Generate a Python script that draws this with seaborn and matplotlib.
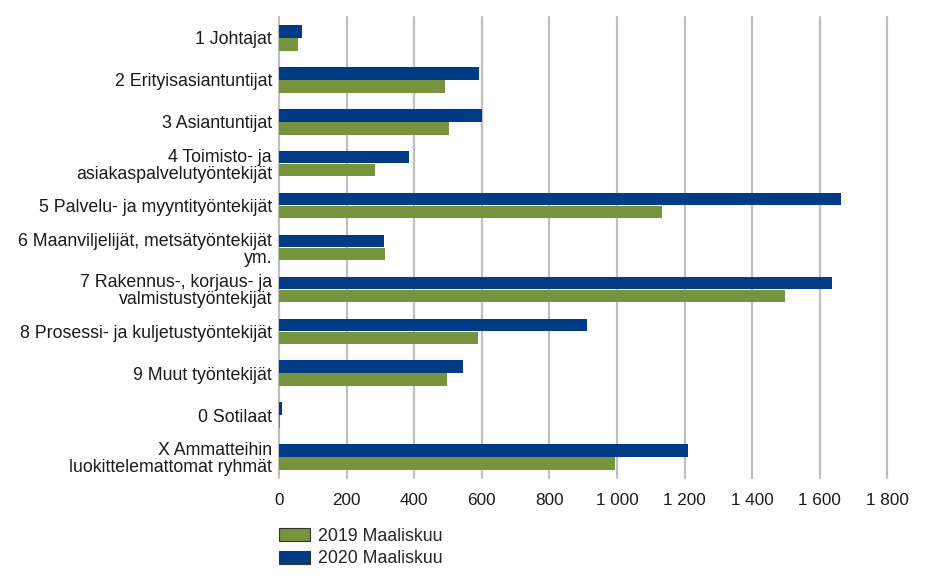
import matplotlib
matplotlib.use("Agg")
import matplotlib.pyplot as plt
import matplotlib.patches as mpatches
import seaborn as sns
import pandas as pd

categories = [
    "1 Johtajat",
    "2 Erityisasiantuntijat",
    "3 Asiantuntijat",
    "4 Toimisto- ja\nasiakaspalvelutyöntekijät",
    "5 Palvelu- ja myyntityöntekijät",
    "6 Maanviljelijät, metsätyöntekijät\nym.",
    "7 Rakennus-, korjaus- ja\nvalmistustyöntekijät",
    "8 Prosessi- ja kuljetustyöntekijät",
    "9 Muut työntekijät",
    "0 Sotilaat",
    "X Ammatteihin\nluokittelemattomat ryhmät",
]
values_2019 = [57, 490, 503, 283, 1133, 314, 1497, 590, 498, 2, 995]
values_2020 = [67, 592, 600, 386, 1662, 312, 1636, 911, 543, 8, 1210]
series_names = ["2019 Maaliskuu", "2020 Maaliskuu"]
x_ticks = [0, 200, 400, 600, 800, 1000, 1200, 1400, 1600, 1800]
x_tick_labels = ["0", "200", "400", "600", "800", "1 000", "1 200", "1 400", "1 600", "1 800"]

colors = {"2019 Maaliskuu": "#77933C", "2020 Maaliskuu": "#003B87"}

df = pd.DataFrame({
    "cat": categories * 2,
    "val": values_2019 + values_2020,
    "series": [series_names[0]] * len(categories) + [series_names[1]] * len(categories),
})

sns.set_theme(style="white")
plt.rcParams['font.family'] = ['Liberation Sans', 'DejaVu Sans']

fig = plt.figure(figsize=(9.26, 5.84), dpi=100)
ax = fig.add_axes([279 / 926, 1 - 478 / 584, (887.4 - 279) / 926, (478 - 17) / 584])

sns.barplot(data=df, y="cat", x="val", hue="series", order=categories,
            hue_order=[series_names[1], series_names[0]], palette=colors,
            orient="h", width=0.62, gap=0.04, saturation=1, ax=ax, legend=False,
            linewidth=0, edgecolor="none", zorder=3)

ax.set_xlim(0, 1800)
ax.set_ylim(len(categories) - 0.5, -0.5)
ax.set_xticks(x_ticks)
ax.set_xticklabels(x_tick_labels, fontsize=12.3, color="#1a1a1a")
ax.set_xlabel("")
ax.set_ylabel("")
ax.tick_params(axis="y", length=0, pad=5, labelsize=12.8, labelcolor="#1a1a1a")
ax.tick_params(axis="x", length=0, pad=10.5)
for lbl in ax.get_yticklabels():
    lbl.set_multialignment("right")
    lbl.set_linespacing(1.0)
ax.grid(False)
for xv in x_ticks:
    ax.axvline(xv, color="#BFBFBF", linewidth=1.6, zorder=0, clip_on=False)
for s in ax.spines.values():
    s.set_visible(False)

handles = [mpatches.Patch(facecolor=colors[n], edgecolor="#333333", linewidth=0.8, label=n)
           for n in series_names]
fig.legend(handles=handles, loc="upper left", bbox_to_anchor=(279 / 926, 1 - 528 / 584),
           frameon=False, fontsize=12.8, handlelength=1.75, handleheight=0.73,
           handletextpad=0.45, labelspacing=0.3, borderaxespad=0, borderpad=0)

fig.savefig("out.png", dpi=100)
